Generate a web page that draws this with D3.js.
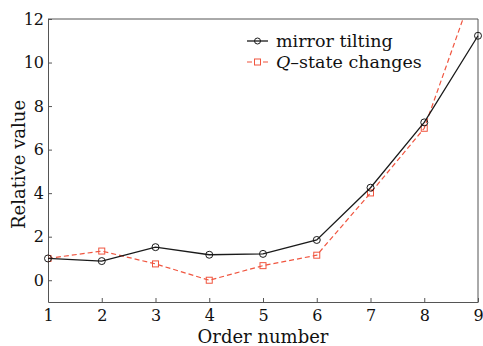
<!DOCTYPE html>
<html>
<head>
<meta charset="utf-8">
<script src="https://cdn.jsdelivr.net/npm/d3@7"></script>
<style>
  body { margin: 0; background: #fff; }
</style>
</head>
<body>
<script>
// data
const orders = [1, 2, 3, 4, 5, 6, 7, 8, 9];
const mirrorTilting = [1.0, 0.88, 1.52, 1.17, 1.21, 1.85, 4.25, 7.25, 11.23];
const qStateChanges = [1.0, 1.34, 0.75, 0.0, 0.67, 1.15, 4.01, 6.98, 13.95];
const yTicks = [0, 2, 4, 6, 8, 10, 12];

const serif = "'DejaVu Serif', 'Liberation Serif', serif";
const width = 483, height = 346;
const margin = {top: 19, right: 5, bottom: 44, left: 48};

const svg = d3.select("body")
  .append("svg")
  .attr("width", width)
  .attr("height", height)
  .style("font-family", serif);

const xScale = d3.scaleLinear()
  .domain([1, 9])
  .range([margin.left, width - margin.right]);
const yScale = d3.scaleLinear()
  .domain([-1, 12])
  .range([height - margin.bottom, margin.top]);

svg.append("clipPath").attr("id", "plot")
  .append("rect")
  .attr("x", margin.left).attr("y", margin.top)
  .attr("width", width - margin.left - margin.right)
  .attr("height", height - margin.top - margin.bottom);

// axes, ticks inward
const xAxis = svg.append("g")
  .attr("transform", "translate(0," + (height - margin.bottom) + ")")
  .call(d3.axisBottom(xScale).tickValues(orders).tickFormat(d3.format("d")).tickSizeInner(-4).tickSizeOuter(0).tickPadding(8));
const yAxis = svg.append("g")
  .attr("transform", "translate(" + margin.left + ",0)")
  .call(d3.axisLeft(yScale).tickValues(yTicks).tickSizeInner(-4).tickSizeOuter(0).tickPadding(4));

[xAxis, yAxis].forEach(a => {
  a.attr("font-family", null);
  a.select(".domain").attr("stroke", "#555");
  a.selectAll(".tick line").attr("stroke", "#555");
  a.selectAll(".tick text")
    .style("font-family", serif)
    .style("font-size", "16px")
    .attr("fill", "#111");
});

// top and right frame
svg.append("path")
  .attr("d", "M" + margin.left + "," + margin.top + "H" + (width - margin.right) + "V" + (height - margin.bottom))
  .attr("fill", "none")
  .attr("stroke", "#555");

const line = d3.line()
  .x((d, i) => xScale(orders[i]))
  .y(d => yScale(d));

const plot = svg.append("g").attr("clip-path", "url(#plot)");

plot.append("path")
  .datum(qStateChanges)
  .attr("fill", "none")
  .attr("stroke", "#f0553f")
  .attr("stroke-width", 1.2)
  .attr("stroke-dasharray", "5,3")
  .attr("d", line);

plot.selectAll(".sq")
  .data(qStateChanges)
  .join("rect")
  .attr("x", (d, i) => xScale(orders[i]) - 3)
  .attr("y", d => yScale(d) - 3)
  .attr("width", 6).attr("height", 6)
  .attr("fill", "none")
  .attr("stroke", "#f0553f")
  .attr("stroke-width", 1);

svg.append("path")
  .datum(mirrorTilting)
  .attr("fill", "none")
  .attr("stroke", "#1a1a1a")
  .attr("stroke-width", 1.3)
  .attr("d", line);

svg.selectAll(".ci")
  .data(mirrorTilting)
  .join("circle")
  .attr("cx", (d, i) => xScale(orders[i]))
  .attr("cy", d => yScale(d))
  .attr("r", 3.5)
  .attr("fill", "none")
  .attr("stroke", "#1a1a1a")
  .attr("stroke-width", 1);

// legend
const lg = svg.append("g").attr("transform", "translate(247,0)");
lg.append("line").attr("x1", 0).attr("x2", 21).attr("y1", 41).attr("y2", 41)
  .attr("stroke", "#1a1a1a").attr("stroke-width", 1.3);
lg.append("circle").attr("cx", 10.5).attr("cy", 41).attr("r", 3)
  .attr("fill", "none").attr("stroke", "#1a1a1a");
lg.append("text").attr("x", 29).attr("y", 47).style("font-size", "17.5px").attr("fill", "#111").text("mirror tilting");

lg.append("line").attr("x1", 0).attr("x2", 21).attr("y1", 62).attr("y2", 62)
  .attr("stroke", "#f0553f").attr("stroke-width", 1.2).attr("stroke-dasharray", "5,3");
lg.append("rect").attr("x", 7.5).attr("y", 59).attr("width", 6).attr("height", 6)
  .attr("fill", "#fff").attr("stroke", "#f0553f");
const t2 = lg.append("text").attr("x", 29).attr("y", 68).style("font-size", "17.5px").attr("fill", "#111");
t2.append("tspan").attr("font-style", "italic").text("Q");
t2.append("tspan").text("\u2013state changes");

// axis titles
svg.append("text")
  .attr("x", (margin.left + width - margin.right) / 2)
  .attr("y", 343)
  .attr("text-anchor", "middle")
  .style("font-size", "18px")
  .attr("fill", "#111")
  .text("Order number");
svg.append("text")
  .attr("transform", "translate(25," + ((margin.top + height - margin.bottom) / 2 + 4) + ") rotate(-90)")
  .attr("text-anchor", "middle")
  .style("font-size", "18px")
  .attr("fill", "#111")
  .text("Relative value");
</script>
</body>
</html>
